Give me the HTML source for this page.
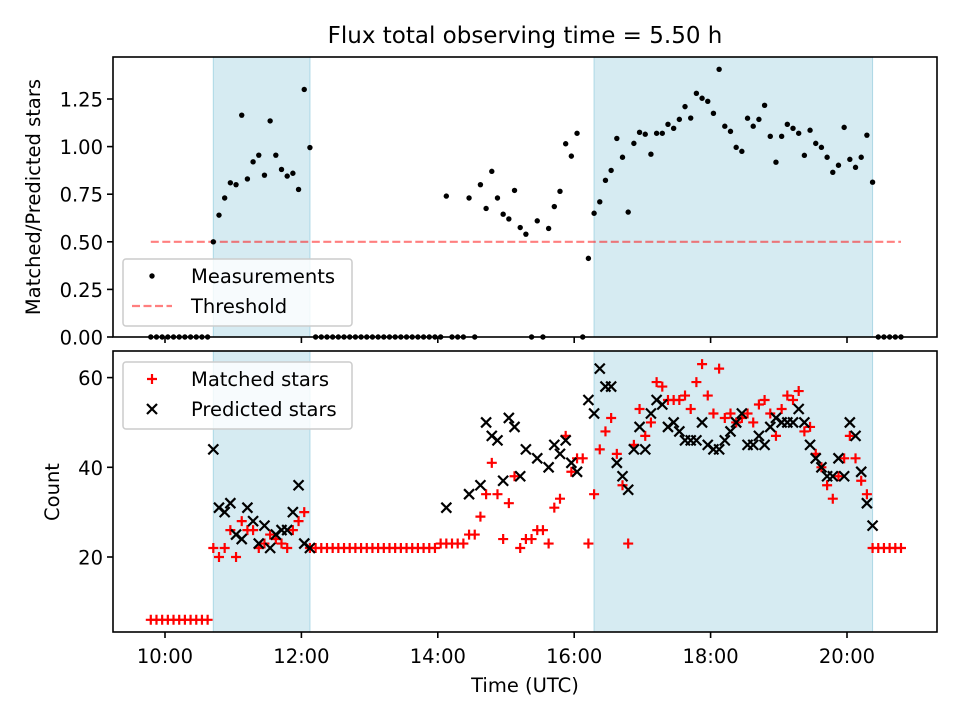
<!DOCTYPE html>
<html><head><meta charset="utf-8"><style>
html,body{margin:0;padding:0;background:#fff;}
svg{display:block;font-family:"DejaVu Sans","Liberation Sans",sans-serif;}
</style></head>
<body>
<svg id="chart" width="960" height="720" viewBox="0 0 960 720" xmlns="http://www.w3.org/2000/svg">
<rect width="960" height="720" fill="#fff"/>
<text x="525" y="43" font-size="23" text-anchor="middle">Flux total observing time = 5.50 h</text>
<g id="top"></g>
<g id="bot"></g>
<text transform="translate(40,197) rotate(-90)" font-size="19.5" text-anchor="middle">Matched/Predicted stars</text>
<text transform="translate(59,492) rotate(-90)" font-size="19.5" text-anchor="middle">Count</text>
<text x="525" y="692" font-size="19.5" text-anchor="middle">Time (UTC)</text>
</svg>
<script>
// times in minutes since 00:00 UTC
const times = [587.5,592.5,597.5,602.5,607.5,612.5,617.5,622.5,627.5,632.5,637.5,
642.5,647.5,652.5,657.5,662.5,667.5,672.5,677.5,682.5,687.5,692.5,697.5,702.5,707.5,712.5,717.5,722.5,727.5,
732.5,737.5,742.5,747.5,752.5,757.5,762.5,767.5,772.5,777.5,782.5,787.5,792.5,797.5,802.5,807.5,812.5,817.5,822.5,827.5,832.5,837.5,
842.5,847.5,852.5,857.5,862.5,867.5,872.5,877.5,882.5,887.5,892.5,897.5,902.5,907.5,912.5,917.5,922.5,927.5,932.5,937.5,942.5,947.5,952.5,957.5,962.5,967.5,972.5,
977.5,982.5,987.5,992.5,997.5,1002.5,1007.5,1012.5,1017.5,1022.5,1027.5,1032.5,1037.5,1042.5,1047.5,1052.5,1057.5,1062.5,1067.5,1072.5,1077.5,1082.5,1087.5,1092.5,1097.5,1102.5,1107.5,1112.5,1117.5,1122.5,1127.5,1132.5,1137.5,1142.5,1147.5,1152.5,1157.5,1162.5,1167.5,1172.5,1177.5,1182.5,1187.5,1192.5,1197.5,1202.5,1207.5,1212.5,1217.5,1222.5,
1227.5,1232.5,1237.5,1242.5,1247.5];
const matched = [6,6,6,6,6,6,6,6,6,6,6,
22,20,22,26,20,28,26,26,22,23,25,24,23,22,26,28,30,22,
22,22,22,22,22,22,22,22,22,22,22,22,22,22,22,22,22,22,22,22,22,22,
23,23,23,23,23,25,25,29,34,41,34,24,32,38,22,24,24,26,26,23,31,33,47,39,42,42,23,
34,44,48,51,43,36,23,45,53,47,50,59,58,55,55,55,56,53,59,63,56,52,62,51,52,50,51,52,50,54,55,52,47,53,56,55,57,48,49,43,40,36,33,38,42,47,42,37,34,22,
22,22,22,22,22];
const predicted = [null,null,null,null,null,null,null,null,null,null,null,
44,31,30,32,25,24,31,28,23,27,22,25,26,26,30,36,23,22,
null,null,null,null,null,null,null,null,null,null,null,null,null,null,null,null,null,null,null,null,null,null,
null,31,null,null,null,34,null,36,50,47,46,37,51,49,38,44,null,42,null,40,45,43,46,41,39,null,55,
52,62,58,58,41,38,35,44,49,44,52,55,54,49,50,48,46,46,46,50,45,44,44,46,48,50,52,45,45,47,45,49,51,50,50,50,53,50,45,42,40,38,38,42,38,50,47,39,32,27,
null,null,null,null,null];
const ratio = [0,0,0,0,0,0,0,0,0,0,0,
0.5,0.64,0.73,0.81,0.80,1.165,0.83,0.92,0.955,0.85,1.135,0.955,0.88,0.845,0.86,0.775,1.30,0.995,
0,0,0,0,0,0,0,0,0,0,0,0,0,0,0,0,0,0,0,0,0,0,
0,0.74,0,0,0,0.73,0,0.80,0.675,0.87,0.73,0.645,0.62,0.77,0.575,0.54,0,0.61,0,0.57,0.685,0.765,1.015,0.95,1.07,0,0.413,
0.65,0.71,0.823,0.875,1.043,0.944,0.656,1.017,1.075,1.065,0.96,1.07,1.07,1.117,1.096,1.143,1.21,1.15,1.28,1.254,1.238,1.175,1.406,1.107,1.08,0.996,0.975,1.149,1.107,1.143,1.217,1.054,0.918,1.054,1.117,1.096,1.07,0.954,1.086,1.017,0.996,0.944,0.865,0.902,1.101,0.933,0.891,0.944,1.06,0.813,
0,0,0,0,0];
const threshold = [0.5];
const spans = [[642.5,727.5],[977.5,1222.5]];
const xTickLabels = ["10:00","12:00","14:00","16:00","18:00","20:00"];
const xTickMins = [600,720,840,960,1080,1200];
const topTicks = [0,0.25,0.5,0.75,1.0,1.25];
const botTicks = [20,40,60];

const NS="http://www.w3.org/2000/svg";
const L=113,R=937,T1=57,B1=337,T2=351,B2=632;
const X = m => 165 + (m/60-10)*68.2;
const Y1 = v => 337 - v*190.4;
const Y2 = v => 557 - (v-20)*4.485;
function mk(tag,attrs,parent){const e=document.createElementNS(NS,tag);for(const k in attrs)e.setAttribute(k,attrs[k]);parent.appendChild(e);return e;}

function panel(g,top,bot,isTop){
  for(const s of spans){
    const r=mk('rect',{x:X(s[0]),y:top,width:X(s[1])-X(s[0]),height:bot-top,fill:'#add8e6','fill-opacity':0.5,stroke:'#add8e6','stroke-width':1},g);
    
    
  }
  xTickMins.forEach((m,i)=>{
    const t=mk('line',{x1:X(m),x2:X(m),y1:bot,y2:bot+6,stroke:'#000','stroke-width':1.6},g);
    
    
    if(!isTop){
      const tx=mk('text',{x:X(m),y:bot+31,'font-size':19.5,'text-anchor':'middle'},g);
      tx.textContent=xTickLabels[i];
      
      
    }
  });
}

const gt=document.getElementById('top'), gb=document.getElementById('bot');
panel(gt,T1,B1,true);
panel(gb,T2,B2,false);

topTicks.forEach(v=>{
  const t=mk('line',{x1:L-6,x2:L,y1:Y1(v),y2:Y1(v),stroke:'#000','stroke-width':1.6},gt);
  
  
  const tx=mk('text',{x:L-10,y:Y1(v)+7.5,'font-size':19.5,'text-anchor':'end'},gt);
  tx.textContent=v.toFixed(2);
  
  
});
botTicks.forEach(v=>{
  const t=mk('line',{x1:L-6,x2:L,y1:Y2(v),y2:Y2(v),stroke:'#000','stroke-width':1.6},gb);
  
  
  const tx=mk('text',{x:L-10,y:Y2(v)+7.5,'font-size':19.5,'text-anchor':'end'},gb);
  tx.textContent=String(v);
  
  
});

const th=mk('line',{x1:X(times[0]),x2:X(times[times.length-1]),y1:Y1(threshold[0]),y2:Y1(threshold[0]),stroke:'#ff0000','stroke-opacity':0.5,'stroke-width':2.2,'stroke-dasharray':'8,3.5'},gt);



times.forEach((m,i)=>{
  const c=mk('circle',{cx:X(m),cy:Y1(ratio[i]),r:2.7,fill:'#000'},gt);
  
  
});

times.forEach((m,i)=>{
  const x=X(m), y=Y2(matched[i]);
  const p=mk('path',{d:`M${x-5},${y}H${x+5}M${x},${y-5}V${y+5}`,stroke:'#ff0000','stroke-width':2.2,fill:'none'},gb);
  
  
});
times.forEach((m,i)=>{
  if(predicted[i]===null) return;
  const x=X(m), y=Y2(predicted[i]), s=5;
  const p=mk('path',{d:`M${x-s},${y-s}L${x+s},${y+s}M${x-s},${y+s}L${x+s},${y-s}`,stroke:'#000','stroke-width':2.2,fill:'none'},gb);
  
  
});

[[gt,T1,B1],[gb,T2,B2]].forEach(([g,t,b])=>{
  const f=mk('rect',{x:L,y:t,width:R-L,height:b-t,fill:'none',stroke:'#000','stroke-width':1.6},g);
  
  
});

function legend(g,y0,items){
  const box=mk('rect',{x:123,y:y0,width:229,height:67,rx:3,fill:'#fff','fill-opacity':0.8,stroke:'#ccc','stroke-width':1.5},g);
  
  
  items.forEach((it,i)=>{
    const yy=y0+17+i*30;
    const sym=mk('g',{},g);
    
    
    if(it.type==='dot') mk('circle',{cx:152,cy:yy,r:2.7,fill:'#000'},sym);
    if(it.type==='dash') mk('line',{x1:132,x2:172,y1:yy,y2:yy,stroke:'#ff0000','stroke-opacity':0.5,'stroke-width':2.2,'stroke-dasharray':'8,3.5'},sym);
    if(it.type==='plus') mk('path',{d:`M147,${yy}H157M152,${yy-5}V${yy+5}`,stroke:'#ff0000','stroke-width':2.2},sym);
    if(it.type==='x') mk('path',{d:`M147,${yy-5}L157,${yy+5}M147,${yy+5}L157,${yy-5}`,stroke:'#000','stroke-width':2.2},sym);
    const tx=mk('text',{x:191,y:yy+7,'font-size':19.5},g);
    tx.textContent=it.label;
    
    
  });
}
legend(gt,259,[{type:'dot',label:'Measurements'},{type:'dash',label:'Threshold'}]);
legend(gb,362,[{type:'plus',label:'Matched stars'},{type:'x',label:'Predicted stars'}]);
</script>
</body></html>
